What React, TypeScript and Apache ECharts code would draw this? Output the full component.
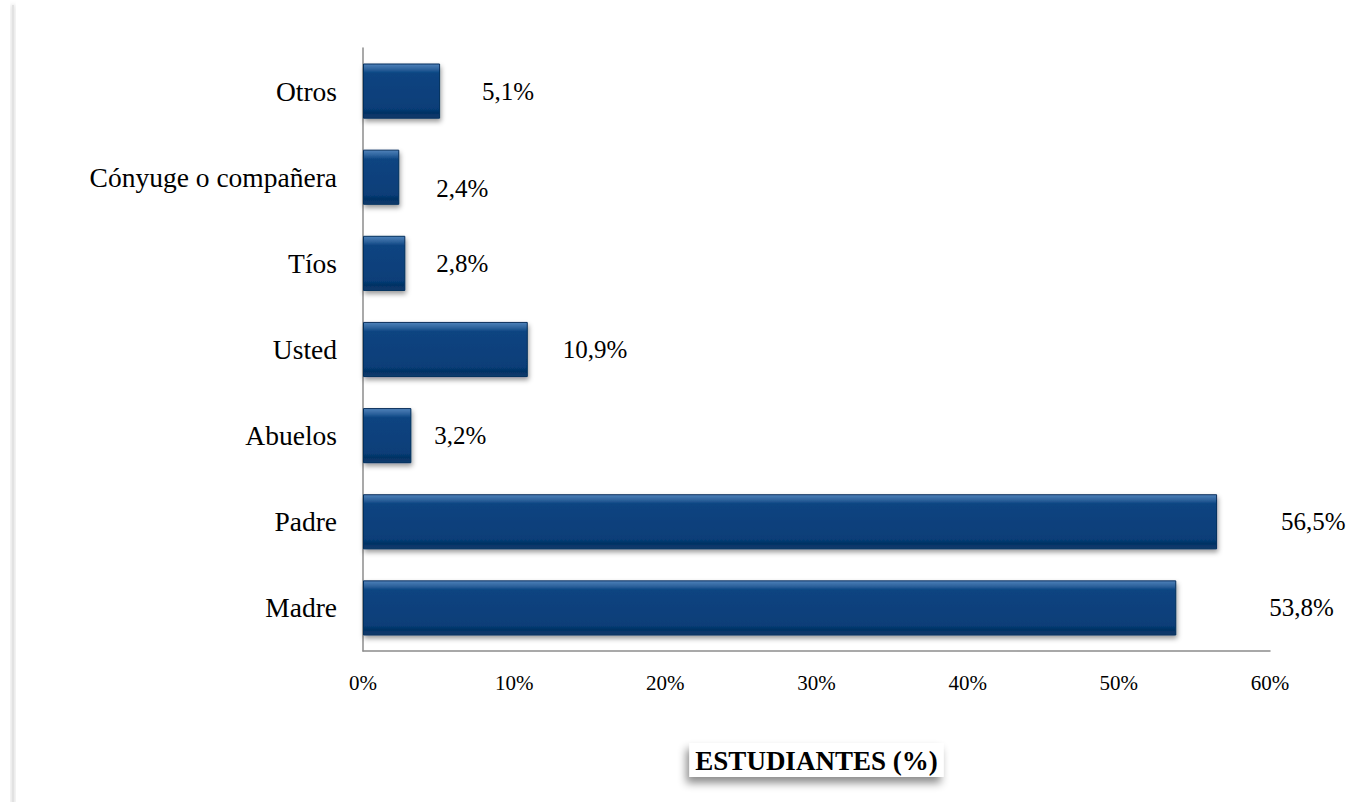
import React, { useEffect, useRef } from "react";
import * as echarts from "echarts";

const categories = ["Madre", "Padre", "Abuelos", "Usted", "Tíos", "Cónyuge o compañera", "Otros"];
const values = [53.8, 56.5, 3.2, 10.9, 2.8, 2.4, 5.1];
const labelGap = [93, 64, 23, 35, 31, 37, 42];
const labelDy = [0, 0, 0, 0, 0, 11, 0];
const axisTitle = "ESTUDIANTES (%)";

const SERIF = "'Liberation Serif', 'Times New Roman', serif";

export default function App() {
  const ref = useRef<HTMLDivElement>(null);
  useEffect(() => {
    if (!ref.current) return;
    const chart = echarts.init(ref.current, null, { renderer: "svg" });
    const barColor = new echarts.graphic.LinearGradient(0, 0, 0, 1, [
      { offset: 0, color: "#4f82ba" },
      { offset: 0.1, color: "#2c619b" },
      { offset: 0.17, color: "#0a4481" },
      { offset: 0.82, color: "#073e78" },
      { offset: 0.9, color: "#053264" },
      { offset: 1, color: "#0b3c6e" },
    ]);
    chart.setOption({
      animation: false,
      backgroundColor: "#ffffff",
      grid: { left: 363, right: 81, top: 48, bottom: 151, containLabel: false },
      graphic: [
        {
          type: "rect",
          shape: { x: 12, y: 5, width: 2, height: 800 },
          style: { fill: "#e2e2e2", shadowColor: "rgba(0,0,0,0.25)", shadowBlur: 4 },
        },
      ],
      xAxis: {
        type: "value",
        min: 0,
        max: 60,
        interval: 10,
        splitLine: { show: false },
        axisLine: { show: true, lineStyle: { color: "#8c8c8c", width: 1.5 } },
        axisTick: { show: false },
        axisLabel: {
          formatter: (v: number) => v + "%",
          fontFamily: SERIF,
          fontSize: 21,
          color: "#000",
          margin: 21,
        },
        name: axisTitle,
        nameLocation: "middle",
        nameGap: 92,
        nameTextStyle: {
          fontFamily: SERIF,
          fontWeight: "bold",
          fontSize: 27,
          color: "#000",
          backgroundColor: "#ffffff",
          padding: [4, 6, 3, 6],
          shadowColor: "rgba(0,0,0,0.45)",
          shadowBlur: 8,
          shadowOffsetX: -3,
          shadowOffsetY: 6,
          verticalAlign: "top",
        },
      },
      yAxis: {
        type: "category",
        data: categories,
        axisLine: { show: true, lineStyle: { color: "#8c8c8c", width: 1.5 } },
        axisTick: { show: false },
        axisLabel: {
          fontFamily: SERIF,
          fontSize: 27.5,
          color: "#000",
          margin: 26,
        },
      },
      series: [
        {
          type: "bar",
          barCategoryGap: "36%",
          data: values.map((v, i) => ({
            value: v,
            label: { distance: labelGap[i], offset: [0, labelDy[i]] },
          })),
          itemStyle: {
            color: barColor,
            borderColor: "#062f5c",
            borderWidth: 1,
            shadowColor: "rgba(0,0,0,0.4)",
            shadowBlur: 5,
            shadowOffsetX: 1,
            shadowOffsetY: 3,
          },
          label: {
            show: true,
            position: "right",
            formatter: (p: any) => String(p.value).replace(".", ",") + "%",
            fontFamily: SERIF,
            fontSize: 25,
            color: "#000",
          },
        },
      ],
    });
    return () => chart.dispose();
  }, []);
  return <div ref={ref} style={{ width: 1351, height: 802, position: "absolute", left: 0, top: 0 }} />;
}
